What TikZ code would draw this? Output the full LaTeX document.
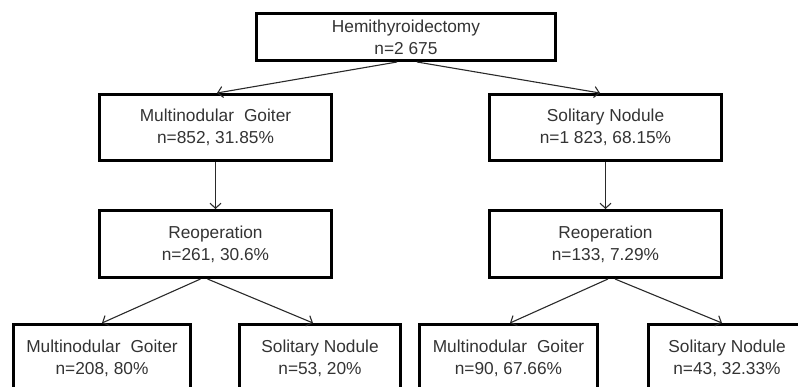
\documentclass[tikz,border=0pt]{standalone}
\usepackage{fontspec}
\setmainfont{Liberation Sans}
\usetikzlibrary{arrows.meta}
\definecolor{txt}{HTML}{333333}
\definecolor{ln}{HTML}{2A2A2A}
\begin{document}
\begin{tikzpicture}[x=1pt,y=1pt,
  box/.style={draw=black, line width=3pt, inner sep=0pt, align=center, text=txt,
    font=\fontsize{17.3}{22}\selectfont},
  conn/.style={draw=ln, line width=1.1pt, -{Straight Barb[length=5pt,width=11pt]}}]
\useasboundingbox (0,0) rectangle (798,-386);
\clip (0,0) rectangle (798,-386);
\node[box, minimum width=299, minimum height=47] (top) at (406,-37) {Hemithyroidectomy\\n=2 675};
\node[box, minimum width=232, minimum height=66] (mgl) at (215.5,-127.5) {Multinodular\hspace{0.3em} Goiter\\n=852, 31.85\%};
\node[box, minimum width=232, minimum height=66] (snr) at (605.5,-127.5) {Solitary Nodule\\n=1 823, 68.15\%};
\node[box, minimum width=232, minimum height=67] (rol) at (215.5,-244) {Reoperation\\n=261, 30.6\%};
\node[box, minimum width=232, minimum height=67] (ror) at (605.5,-244) {Reoperation\\n=133, 7.29\%};
\node[box, minimum width=177, minimum height=68] (ll) at (102,-358.5) {Multinodular\hspace{0.3em} Goiter\\n=208, 80\%};
\node[box, minimum width=161, minimum height=68] (lr) at (320,-358.5) {Solitary Nodule\\n=53, 20\%};
\node[box, minimum width=178, minimum height=68] (rl) at (508.5,-358.5) {Multinodular\hspace{0.3em} Goiter\\n=90, 67.66\%};
\node[box, minimum width=157, minimum height=68] (rr) at (727,-358.5) {Solitary Nodule\\n=43, 32.33\%};
\draw[conn] ([xshift=-9pt]top.south) -- ([xshift=1.5pt]mgl.north);
\draw[conn] ([xshift=11pt]top.south) -- ([xshift=-5.5pt]snr.north);
\draw[conn] (mgl.south) -- (rol.north);
\draw[conn] (snr.south) -- (ror.north);
\draw[conn] ([xshift=-15pt]rol.south) -- (ll.north);
\draw[conn] ([xshift=-8pt]rol.south) -- ([xshift=-7pt]lr.north);
\draw[conn] ([xshift=2.5pt]ror.south) -- ([xshift=1.5pt]rl.north);
\draw[conn] ([xshift=9.5pt]ror.south) -- ([xshift=-5pt]rr.north);
\end{tikzpicture}
\end{document}
